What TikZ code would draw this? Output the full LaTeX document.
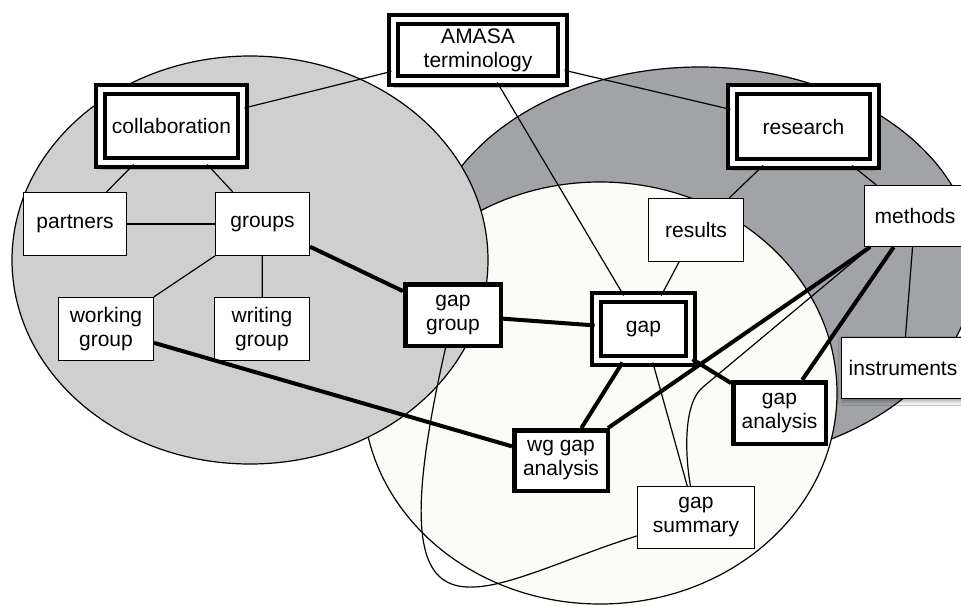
\documentclass[tikz,border=0pt]{standalone}
\usepackage{fontspec}
\setmainfont{Liberation Sans}
\usetikzlibrary{shadows.blur}

\definecolor{lightgrey}{HTML}{CFCFCF}
\definecolor{darkgrey}{HTML}{A2A3A6}
\definecolor{cream}{HTML}{FBFBF7}

\begin{document}
\begin{tikzpicture}[x=1pt, y=-1pt, line width=1.2pt,
  every node/.style={font=\fontsize{21}{24}\selectfont, align=center, inner sep=0pt, fill=white},
  thinbox/.style={draw, line width=1.2pt},
  thickbox/.style={draw, line width=4.5pt},
  dblbox/.style={draw, line width=4pt, double=white, double distance=5pt},
  shade/.style={blur shadow={shadow xshift=1pt, shadow yshift=-3pt, shadow blur radius=4pt, shadow opacity=35}},
  heavy/.style={line width=4pt}]

\useasboundingbox (0,0) rectangle (961,605);
\clip (0,0) rectangle (961,605);
\fill[white] (0,0) rectangle (961,605);

\filldraw[fill=darkgrey] (700,265) ellipse [x radius=275pt, y radius=198pt];
\filldraw[fill=cream] (600,393) ellipse [x radius=237pt, y radius=211pt];
\filldraw[fill=lightgrey] (250,260) ellipse [x radius=238pt, y radius=204pt];

\node[dblbox, shade, minimum width=169pt, minimum height=61pt] (amasa) at (478,50) {AMASA\\terminology};
\node[dblbox, shade, minimum width=142pt, minimum height=73pt] (collab) at (171.5,126) {collaboration};
\node[dblbox, shade, minimum width=142pt, minimum height=74pt] (research) at (803.5,126.5) {research};
\node[dblbox, minimum width=94pt, minimum height=63pt] (gap) at (643.5,329) {gap};

\node[thinbox, minimum width=103pt, minimum height=63pt] (partners) at (75,224) {partners};
\node[thinbox, minimum width=94pt, minimum height=63pt] (groups) at (262.5,224) {groups};
\node[thinbox, minimum width=95pt, minimum height=63pt] (wgroup) at (106,329) {working\\group};
\node[thinbox, minimum width=95pt, minimum height=63pt] (wrgroup) at (262,329) {writing\\group};
\node[thinbox, minimum width=95pt, minimum height=63pt] (results) at (696,230) {results};
\node[thinbox, minimum width=117pt, minimum height=62pt] (gsum) at (696,517.5) {gap\\summary};
\node[thinbox, minimum width=101pt, minimum height=61pt] (methods) at (915,216) {methods};
\node[thinbox, shade, minimum width=123pt, minimum height=61pt] (instr) at (903,368) {instruments};

\node[thickbox, minimum width=95.5pt, minimum height=61.5pt] (ggroup) at (453,315) {gap\\group};
\node[thickbox, minimum width=93.5pt, minimum height=60.5pt] (wggap) at (561,460.5) {wg gap\\analysis};
\node[thickbox, minimum width=92.5pt, minimum height=61.5pt] (ganal) at (779.5,413) {gap\\analysis};

\draw (amasa) -- (collab);
\draw (amasa) -- (research);
\draw (amasa) -- (gap);
\draw (collab) -- (partners);
\draw (collab) -- (groups);
\draw (partners) -- (groups);
\draw (groups) -- (wgroup);
\draw (groups) -- (wrgroup);
\draw (research) -- (results);
\draw (research) -- (methods);
\draw (results) -- (gap);
\draw (methods) -- (instr);
\draw (gap) -- (gsum);

\draw[heavy] (groups) -- (ggroup);
\draw[heavy] (wgroup) -- (wggap);
\draw[heavy] (ggroup) -- (gap);
\draw[heavy] (gap) -- (wggap);
\draw[heavy] (gap) -- (ganal);
\draw[heavy] (methods) -- (wggap);
\draw[heavy] (methods) -- (ganal);

\draw (ggroup) .. controls (370,680) and (480,585) .. (gsum);
\coordinate (bend) at (703,387);
\draw (methods.215) -- (bend) .. controls (683,403) and (685,455) .. (gsum);

\end{tikzpicture}
\end{document}
